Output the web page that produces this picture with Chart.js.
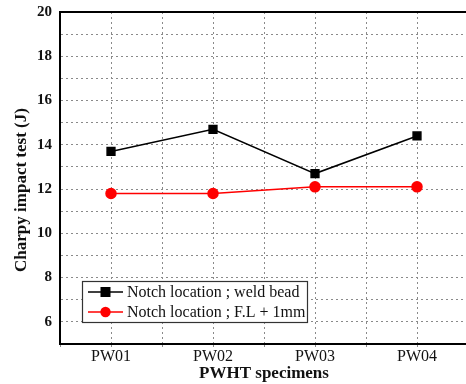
<!DOCTYPE html>
<html><head><meta charset="utf-8">
<script src="https://cdn.jsdelivr.net/npm/chart.js@4/dist/chart.umd.min.js"></script>
<style>html,body{margin:0;padding:0;background:#fff;overflow:hidden;width:466px;height:384px}#wrap{width:480px;height:384px}</style>
</head><body><div id="wrap"><canvas id="c" width="480" height="384"></canvas></div>
<script>
const categories = ["PW01", "PW02", "PW03", "PW04"];
const weldBead = [13.7, 14.7, 12.7, 14.4];
const fusionLine = [11.8, 11.8, 12.1, 12.1];
const seriesNames = ["Notch location ; weld bead", "Notch location ; F.L + 1mm"];
const yTickLabels = [6, 8, 10, 12, 14, 16, 18, 20];
const yTitle = "Charpy impact test (J)";

const serif = "'Liberation Serif','Times New Roman',serif";

const frameLegend = {
  id: 'frameLegend',
  afterDraw(chart) {
    const ctx = chart.ctx, a = chart.chartArea;
    ctx.save();
    ctx.strokeStyle = '#000'; ctx.lineWidth = 2;
    ctx.strokeRect(a.left, a.top, a.right - a.left, a.bottom - a.top);
    // y axis title
    ctx.save();
    ctx.translate(22, (a.top + a.bottom) / 2 + 12);
    ctx.rotate(-Math.PI / 2);
    ctx.font = "bold 17px " + serif; ctx.fillStyle = '#111';
    ctx.textAlign = 'center'; ctx.textBaseline = 'middle';
    ctx.fillText(yTitle, 0, 0);
    ctx.restore();
    // legend box
    const bx = a.left + 22, by = a.top + 269, bw = 225, bh = 41;
    ctx.fillStyle = '#fff'; ctx.fillRect(bx, by, bw, bh);
    ctx.strokeStyle = '#333'; ctx.lineWidth = 1.2;
    ctx.strokeRect(bx + 0.5, by + 0.5, bw, bh);
    ctx.font = "16px " + serif;
    ctx.textBaseline = 'middle'; ctx.textAlign = 'left';
    chart.data.datasets.forEach((ds, i) => {
      const y = by + 11 + i * 20;
      ctx.strokeStyle = ds.borderColor; ctx.lineWidth = 1.5;
      ctx.beginPath(); ctx.moveTo(bx + 6, y); ctx.lineTo(bx + 41, y); ctx.stroke();
      ctx.fillStyle = ds.pointBackgroundColor;
      if (ds.pointStyle === 'rect') { ctx.fillRect(bx + 18.5, y - 5, 10, 10); }
      else { ctx.beginPath(); ctx.arc(bx + 23.5, y, 5.2, 0, Math.PI * 2); ctx.fill(); }
      ctx.fillStyle = '#111';
      ctx.fillText(ds.label, bx + 45, y + 1);
    });
    ctx.restore();
  }
};

new Chart(document.getElementById('c'), {
  type: 'line',
  data: {
    datasets: [
      { label: seriesNames[0], data: weldBead.map((v, i) => ({x: i + 1, y: v})),
        borderColor: '#000', backgroundColor: '#000', pointBackgroundColor: '#000', pointBorderColor: '#000',
        pointStyle: 'rect', pointRadius: 5.5, borderWidth: 1.5, tension: 0 },
      { label: seriesNames[1], data: fusionLine.map((v, i) => ({x: i + 1, y: v})),
        borderColor: '#ff0000', backgroundColor: '#ff0000', pointBackgroundColor: '#ff0000', pointBorderColor: '#ff0000',
        pointStyle: 'circle', pointRadius: 5, borderWidth: 1.5, tension: 0 }
    ]
  },
  options: {
    responsive: false, animation: false, devicePixelRatio: 1,
    layout: { padding: { top: 12, right: 12, left: 0, bottom: 0 } },
    plugins: { legend: { display: false }, tooltip: { enabled: false } },
    scales: {
      x: {
        type: 'linear', min: 0.5, max: 4.5,
        afterFit(s) { s.height = 40; s.paddingLeft = 0; s.paddingRight = 0; },
        ticks: { stepSize: 0.5, autoSkip: false, maxRotation: 0, padding: 0, color: '#111',
          font: { family: serif, size: 16 },
          callback: v => Number.isInteger(v) ? categories[v - 1] : '' },
        grid: { color: '#8a8a8a', lineWidth: 1, tickLength: 3, drawTicks: true },
        border: { display: true, color: '#000', width: 2, dash: [2, 3] },
        title: { display: true, text: 'PWHT specimens', color: '#111',
          font: { family: serif, size: 17, weight: 'bold' }, padding: { top: 0, bottom: 0 } }
      },
      y: {
        min: 5, max: 20,
        afterFit(s) { s.width = 60; s.paddingTop = 0; s.paddingBottom = 0; },
        ticks: { stepSize: 1, padding: 8, color: '#111',
          font: { family: serif, size: 15, weight: 'bold' },
          callback: v => yTickLabels.includes(v) ? String(v) : '' },
        grid: { color: '#8a8a8a', lineWidth: 1, drawTicks: false },
        border: { display: true, color: '#000', width: 2, dash: [2, 3] },
        title: { display: false }
      }
    }
  },
  plugins: [frameLegend]
});
</script></body></html>
